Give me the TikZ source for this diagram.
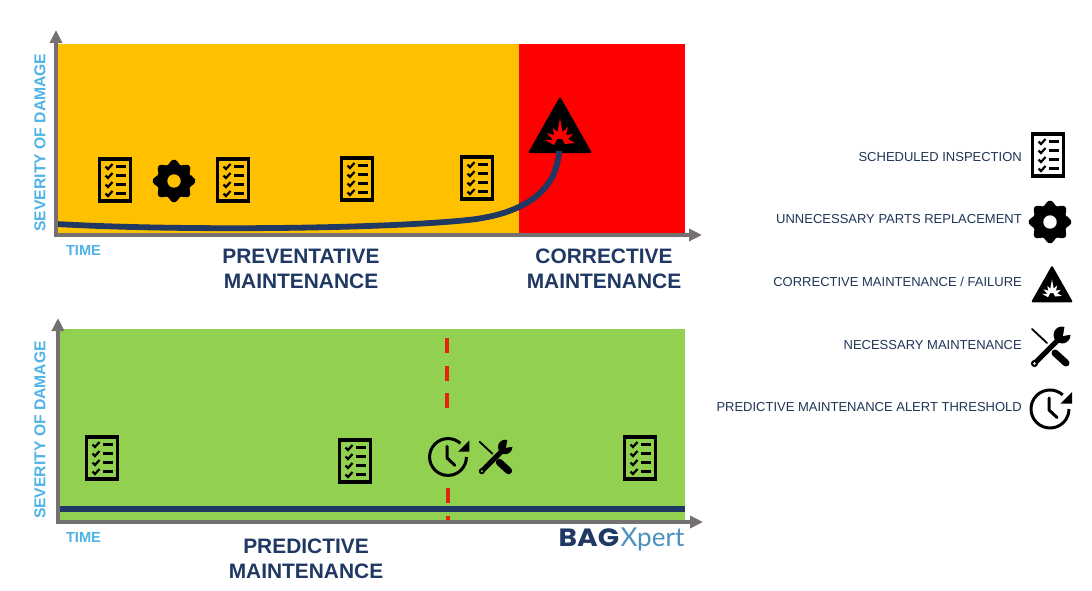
\documentclass[tikz,border=0pt]{standalone}
\usepackage{fontspec}
\setmainfont{Liberation Sans}
\newfontfamily\logofont{Lato}
\newfontfamily\logobold{Poppins}
\usetikzlibrary{arrows.meta}
\definecolor{navy}{HTML}{1F3864}
\definecolor{axisgray}{HTML}{767171}
\definecolor{skyb}{HTML}{4FB3E8}
\definecolor{amber}{HTML}{FFC000}
\definecolor{leaf}{HTML}{92D050}
\definecolor{legendtext}{HTML}{1F3557}
\definecolor{logoblue}{HTML}{4A90BE}
\definecolor{dashred}{HTML}{E3220F}
\tikzset{
 axisline/.style={draw=axisgray,line width=3.4pt,-{Triangle[length=13pt,width=12pt]}},
 curveline/.style={draw=navy,line width=5.8pt},
 dashseg/.style={draw=dashred,line width=3.4pt},
 title/.style={font=\fontsize{20.9}{25}\selectfont\bfseries,text=navy,align=center,inner sep=0pt},
 axislab/.style={font=\fontsize{15.7}{18}\selectfont\bfseries,text=skyb,inner sep=0pt},
 timelab/.style={font=\fontsize{14.6}{18}\selectfont\bfseries,text=skyb,inner sep=0pt},
 legend/.style={font=\fontsize{13}{16}\selectfont,text=legendtext,anchor=east,inner sep=0pt},
 pics/checklist/.style={code={
  \draw[black,line width=3.5pt,line join=miter] (-15.5,-21) rectangle (15.5,21);
  \foreach \yy in {-13.5,-4.5,4.5,13.5}{
   \draw[black,line width=2.2pt] (-9.5,\yy) -- (-7,\yy+2.5) -- (-2.5,\yy-2.5);
   \draw[black,line width=2.5pt] (1,\yy) -- (11,\yy);
  }
 }},
 pics/gearicon/.style={code={
  \fill[black,rounded corners=2pt]
   (-13:17.5) \foreach \a in {0,45,...,315}{
     -- (\a-13:17.5) -- (\a-9:21.5) -- (\a+9:21.5) -- (\a+13:17.5) } -- cycle;
  \fill[#1] (0,0) circle (6.7);
 }},
 pics/warnicon/.style args={#1 and #2}{code={
  \fill[black,rounded corners=2pt] (0,-28.5*#2) -- (32*#2,28*#2) -- (-32*#2,28*#2) -- cycle;
  \fill[#1] (-15*#2,15*#2)--(-7*#2,15*#2)--(-13*#2,8*#2)--(-6*#2,10*#2)--(-7*#2,3*#2)--(-2.5*#2,7*#2)--(0,-7*#2)
   --(2.5*#2,7*#2)--(8*#2,2*#2)--(6*#2,10*#2)--(13*#2,9*#2)--(8*#2,14*#2)--(15*#2,18*#2)
   --(5*#2,19*#2)--(2*#2,14*#2)--(-3*#2,14*#2)--(-6*#2,20*#2)--cycle;
 }},
 pics/toolicon/.style={code={
  \draw[black,line width=1.8pt,line cap=round] (-18,-19) -- (-3,-5);
  \draw[black,line width=7pt,line cap=round] (5,5) -- (16,15);
  \draw[black,line width=5pt,line cap=round] (-15.5,15.5) -- (9,-9);
  \fill[black] (12,-13) circle (8.5);
  \fill[black] (-15.5,15.5) circle (3.6);
  \fill[#1] (-15.5,15.5) circle (1.3);
  \fill[#1] (13,-12) -- (15,-24) -- (25,-24) -- (24,-14) -- cycle;
 }},
 pics/clockicon/.style={code={
  \draw[black,line width=3pt] (0:19) arc[start angle=0,end angle=312,radius=19];
  \fill[black] (22,-17) -- (22,-5.5) -- (10.5,-5.5) -- cycle;
  \draw[black,line width=3pt,line cap=round,line join=round] (-1,-11) -- (-1,1) -- (7,8.5);
 }},
}
\begin{document}
\begin{tikzpicture}[x=1pt,y=-1pt]
\useasboundingbox (0,0) rectangle (1092,591);
\fill[white] (0,0) rectangle (1092,591);
% panels
\fill[amber] (56,44) rectangle (519,235);
\fill[red] (519,44) rectangle (685,235);
\fill[leaf] (58,329) rectangle (685,522);
% icons top
\pic at (115,180) {checklist};
\pic at (174,181) {gearicon=amber};
\pic at (233,180) {checklist};
\pic at (357,179) {checklist};
\pic at (477,178) {checklist};
\pic at (560,125) {warnicon={red and 1}};
% curve
\coordinate (ca) at (56,224);
\coordinate (cb) at (468,220);
\coordinate (cc) at (559,151);
\draw[curveline] (ca) .. controls (180,231) and (380,229) .. (cb) .. controls (525,214) and (557,190) .. (cc);
% axes top
\coordinate (o1) at (56,236);
\coordinate (y1) at (56,30);
\coordinate (o1h) at (54.3,235);
\coordinate (x1) at (702,235);
\draw[axisline] (o1) -- (y1);
\draw[axisline] (o1h) -- (x1);
% bottom panel
\foreach \ya/\yb in {338/353,366/381,393/408}{
  \draw[dashseg] (447,\ya) -- (447,\yb);
}
\foreach \ya/\yb in {488/503,516/522}{
  \draw[dashseg] (448,\ya) -- (448,\yb);
}
\coordinate (la) at (58,509);
\coordinate (lb) at (685,509);
\draw[curveline,line width=6pt] (la) -- (lb);
\coordinate (o2) at (58,523);
\coordinate (y2) at (58,318);
\coordinate (o2h) at (56.3,522);
\coordinate (x2) at (703,522);
\draw[axisline] (o2) -- (y2);
\draw[axisline] (o2h) -- (x2);
\pic at (102,458) {checklist};
\pic at (355,461) {checklist};
\pic at (640,458) {checklist};
\pic[scale=.97] at (448,457) {clockicon};
\pic[scale=.85] at (495,458) {toolicon=leaf};
% labels
\node[axislab,rotate=90] (ys1) at (40,142.5) {SEVERITY OF DAMAGE};
\node[axislab,rotate=90] (ys2) at (40,430) {SEVERITY OF DAMAGE};
\node[timelab] (t1) at (83.5,250) {TIME};
\node[timelab] (t2) at (83.5,537) {TIME};
\node[title] (prev) at (301,269) {PREVENTATIVE\\MAINTENANCE};
\node[title] (corr) at (604,268.5) {CORRECTIVE\\MAINTENANCE};
\node[title] (pred) at (306,558.5) {PREDICTIVE\\MAINTENANCE};
\node[inner sep=0pt,anchor=base west] (logo) at (558.5,546) {\logobold\fontsize{25}{30}\selectfont\textcolor{navy}{\scalebox{1.12}[1]{\textbf{BAG}}}\hspace{1.5pt}\logofont\fontsize{26}{30}\selectfont\textcolor{logoblue}{Xpert}};
% legend
\node[legend] (l1) at (1022,157) {SCHEDULED INSPECTION};
\node[legend] (l2) at (1022,219) {UNNECESSARY PARTS REPLACEMENT};
\node[legend] (l3) at (1022,282) {CORRECTIVE MAINTENANCE / FAILURE};
\node[legend] (l4) at (1022,345) {NECESSARY MAINTENANCE};
\node[legend] (l5) at (1022,407) {PREDICTIVE MAINTENANCE ALERT THRESHOLD};
\pic at (1048,155) {checklist};
\pic at (1050,222) {gearicon=white};
\pic at (1052,284) {warnicon={white and .66}};
\pic at (1050,348) {toolicon=white};
\pic at (1050,409) {clockicon};
\end{tikzpicture}
\end{document}
